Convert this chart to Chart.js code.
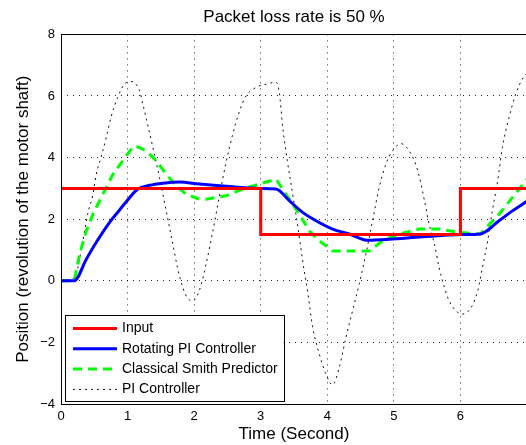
<!DOCTYPE html>
<html>
<head>
<meta charset="utf-8">
<script src="https://cdn.jsdelivr.net/npm/chart.js@4.4.1/dist/chart.umd.min.js"></script>
<style>
  html, body { margin: 0; padding: 0; background: #fff; overflow: hidden; }
  #wrap { width: 532px; height: 445px; }
</style>
</head>
<body>
<div id="wrap"><canvas id="c" width="532" height="445"></canvas></div>
<script>
// ---- data ----
const titleText = 'Packet loss rate is 50 %';
const xLabel = 'Time (Second)';
const yLabel = 'Position (revolution of the motor shaft)';
const xTickLabels = ['0', '1', '2', '3', '4', '5', '6', ''];
const yTickLabels = ['\u22124', '\u22122', '0', '2', '4', '6', '8'];
const seriesNames = ['Input', 'Rotating PI Controller', 'Classical Smith Predictor', 'PI Controller'];

const inputT = [0, 3, 3, 6, 6, 7];
const inputV = [3, 3, 1.5, 1.5, 3, 3];

const rotT = [0, 0.2, 0.38, 0.53, 0.73, 0.88, 1.03, 1.15, 1.33, 1.53, 1.78, 2.08, 2.58, 3.0, 3.23, 3.43, 3.63, 3.83, 4.08, 4.33, 4.6, 4.93, 5.43, 6.03, 6.3, 6.58, 6.78, 7.0];
const rotV = [0, 0, 0.7, 1.25, 1.9, 2.3, 2.7, 2.97, 3.1, 3.17, 3.21, 3.14, 3.05, 3.0, 2.98, 2.6, 2.22, 1.95, 1.68, 1.52, 1.32, 1.35, 1.43, 1.5, 1.52, 1.95, 2.27, 2.58];

const smithT = [0, 0.2, 0.28, 0.38, 0.48, 0.58, 0.68, 0.78, 0.93, 1.08, 1.13, 1.28, 1.43, 1.58, 1.73, 1.88, 2.08, 2.18, 2.48, 2.73, 2.98, 3.23, 3.38, 3.58, 3.73, 3.88, 4.08, 4.3, 4.63, 4.83, 5.08, 5.38, 5.68, 5.98, 6.3, 6.58, 6.78, 7.0];
const smithV = [0, 0, 0.87, 1.62, 2.16, 2.6, 3.03, 3.46, 3.9, 4.35, 4.37, 4.22, 3.9, 3.46, 3.08, 2.81, 2.65, 2.65, 2.76, 2.98, 3.14, 3.3, 2.81, 2.16, 1.62, 1.3, 0.97, 0.97, 0.97, 1.3, 1.52, 1.68, 1.68, 1.57, 1.52, 2.16, 2.7, 3.3];

const piT = [0, 0.2, 0.33, 0.40, 0.48, 0.53, 0.60, 0.68, 0.75, 0.85, 0.95, 1.05, 1.18, 1.23, 1.30, 1.38, 1.48, 1.58, 1.68, 1.75, 1.83, 1.90, 1.98, 2.08, 2.18, 2.28, 2.38, 2.48, 2.58, 2.68, 2.78, 2.93, 3.08, 3.23, 3.28, 3.33, 3.40, 3.48, 3.56, 3.63, 3.71, 3.78, 3.88, 3.98, 4.08, 4.18, 4.28, 4.38, 4.48, 4.58, 4.68, 4.78, 4.88, 4.98, 5.11, 5.26, 5.36, 5.46, 5.53, 5.61, 5.68, 5.76, 5.83, 5.93, 6.03, 6.16, 6.26, 6.33, 6.41, 6.48, 6.56, 6.63, 6.73, 6.83, 6.93, 7.0];
const piV = [0, 0.1, 1.3, 2.16, 2.81, 3.46, 4.0, 4.65, 5.3, 5.95, 6.38, 6.47, 6.17, 5.73, 5.09, 4.33, 3.35, 2.27, 1.19, 0.43, -0.22, -0.56, -0.65, -0.3, 0.55, 1.6, 2.75, 3.85, 4.76, 5.5, 6.0, 6.28, 6.38, 6.45, 6.1, 5.0, 3.9, 2.81, 1.73, 0.65, -0.43, -1.5, -2.38, -3.03, -3.38, -2.81, -1.84, -0.97, -0.1, 0.87, 1.95, 3.03, 3.79, 4.22, 4.45, 4.11, 3.57, 2.6, 1.84, 1.19, 0.43, -0.22, -0.65, -0.97, -1.08, -0.87, -0.32, 0.43, 1.3, 2.27, 3.25, 4.33, 5.3, 6.06, 6.55, 6.75];

const pts = (t, v) => t.map((x, i) => ({ x: x, y: v[i] }));
const FONT = "'Liberation Sans', Arial, Helvetica, sans-serif";

const frameAndLegend = {
  id: 'frameAndLegend',
  afterDatasetsDraw(chart) {
    const ctx = chart.ctx;
    const a = chart.chartArea;
    ctx.save();
    ctx.setLineDash([]);
    ctx.strokeStyle = '#000';
    ctx.lineWidth = 1;
    ctx.strokeRect(Math.round(a.left) + 0.5, Math.round(a.top) + 0.5, Math.round(a.right - a.left), Math.round(a.bottom - a.top));

    // legend box
    const ds = chart.data.datasets;
    ctx.font = '14px ' + FONT;
    let maxW = 0;
    ds.forEach(d => { maxW = Math.max(maxW, ctx.measureText(d.label).width); });
    const bx = a.left + 4, rowH = 20.3;
    const bw = 57 + maxW + 6, bh = 86;
    const by = a.bottom - 3 - bh;
    ctx.fillStyle = '#fff';
    ctx.fillRect(bx, by, bw, bh);
    ctx.strokeStyle = '#000';
    ctx.lineWidth = 1;
    ctx.strokeRect(Math.round(bx) + 0.5, Math.round(by) + 0.5, Math.round(bw), Math.round(bh));
    ds.forEach((d, i) => {
      const y = by + 13.5 + i * rowH;
      ctx.beginPath();
      ctx.setLineDash(d.borderDash || []);
      ctx.strokeStyle = d.borderColor;
      ctx.lineWidth = d.borderWidth;
      ctx.moveTo(bx + 8, y);
      ctx.lineTo(bx + 52, y);
      ctx.stroke();
      ctx.setLineDash([]);
      ctx.fillStyle = '#000';
      ctx.textBaseline = 'middle';
      ctx.textAlign = 'left';
      ctx.fillText(d.label, bx + 57, y);
    });
    ctx.restore();
  }
};

new Chart(document.getElementById('c'), {
  type: 'line',
  data: {
    datasets: [
      { label: seriesNames[0], data: pts(inputT, inputV), borderColor: '#ff0000', borderWidth: 3, tension: 0, pointRadius: 0 },
      { label: seriesNames[1], data: pts(rotT, rotV), borderColor: '#0000ff', borderWidth: 3, cubicInterpolationMode: 'monotone', pointRadius: 0 },
      { label: seriesNames[2], data: pts(smithT, smithV), borderColor: '#00ff00', borderWidth: 3, borderDash: [9, 6], tension: 0, pointRadius: 0 },
      { label: seriesNames[3], data: pts(piT, piV), borderColor: '#111111', borderWidth: 1, borderDash: [2, 4], cubicInterpolationMode: 'monotone', pointRadius: 0 }
    ]
  },
  options: {
    responsive: false,
    animation: false,
    devicePixelRatio: 1,
    layout: { padding: 0 },
    plugins: {
      legend: { display: false },
      tooltip: { enabled: false },
      title: {
        display: true, text: titleText, fullSize: false, color: '#000',
        font: { family: FONT, size: 17, weight: 'normal' },
        padding: { top: 7, bottom: 7 }
      }
    },
    scales: {
      x: {
        type: 'linear', min: 0, max: 7,
        afterFit: s => { s.height = 41; },
        ticks: {
          stepSize: 1, color: '#000', padding: 5, maxRotation: 0,
          font: { family: FONT, size: 13 },
          callback: (v) => xTickLabels[Math.round(v)] !== undefined ? xTickLabels[Math.round(v)] : ''
        },
        grid: { color: 'rgba(0,0,0,0.85)', lineWidth: 1, drawTicks: false },
        border: { display: false, dash: [1, 5] },
        title: { display: true, text: xLabel, color: '#000', font: { family: FONT, size: 17 }, padding: { top: 0, bottom: 0 } }
      },
      y: {
        type: 'linear', min: -4, max: 8,
        afterFit: s => { s.width = 61; },
        ticks: {
          stepSize: 2, color: '#000', padding: 6,
          font: { family: FONT, size: 13 },
          callback: (v) => yTickLabels[Math.round((v + 4) / 2)]
        },
        grid: { color: 'rgba(0,0,0,0.85)', lineWidth: 1, drawTicks: false },
        border: { display: false, dash: [1, 5] },
        title: { display: true, text: yLabel, color: '#000', font: { family: FONT, size: 17 }, padding: { top: 13, bottom: 0 } }
      }
    }
  },
  plugins: [frameAndLegend]
});
</script>
</body>
</html>
